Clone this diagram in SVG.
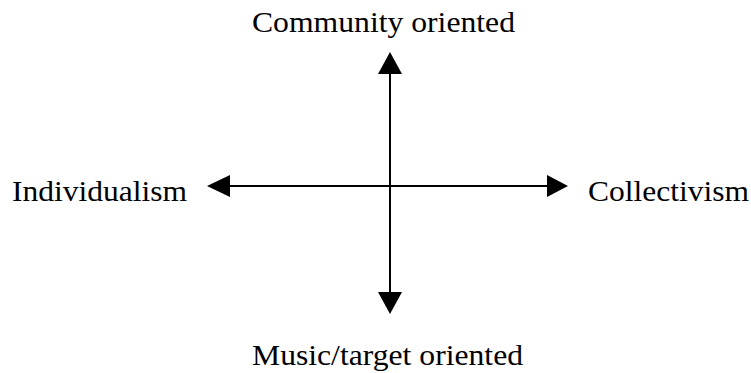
<svg xmlns="http://www.w3.org/2000/svg" width="751" height="373" viewBox="0 0 751 373">
  <style>
    .label { font-family: "Liberation Serif", "Times New Roman", serif; font-size: 28.5px; fill: #000; }
    .axis { stroke: #000; stroke-width: 2; fill: none; }
    .head { fill: #000; stroke: none; }
  </style>
  <rect width="751" height="373" fill="#fff"/>

  <g id="connectors">
    <!-- vertical axis -->
    <line class="axis" x1="390" y1="72" x2="390" y2="294"/>
    <polygon class="head" points="390,52 378,74 402,74"/>
    <polygon class="head" points="390,314 378,292 402,292"/>
    <!-- horizontal axis -->
    <line class="axis" x1="229" y1="186" x2="549" y2="186"/>
    <polygon class="head" points="207,186 230,175 230,197"/>
    <polygon class="head" points="568,186 547,175 547,197"/>
  </g>

  <g id="node-community">
    <text class="label" x="252" y="32" textLength="263" lengthAdjust="spacingAndGlyphs">Community oriented</text>
  </g>
  <g id="node-music">
    <text class="label" x="252" y="365" textLength="271" lengthAdjust="spacingAndGlyphs">Music/target oriented</text>
  </g>
  <g id="node-individualism">
    <text class="label" x="12" y="201" textLength="175" lengthAdjust="spacingAndGlyphs">Individualism</text>
  </g>
  <g id="node-collectivism">
    <text class="label" x="588" y="201" textLength="161" lengthAdjust="spacingAndGlyphs">Collectivism</text>
  </g>
</svg>
